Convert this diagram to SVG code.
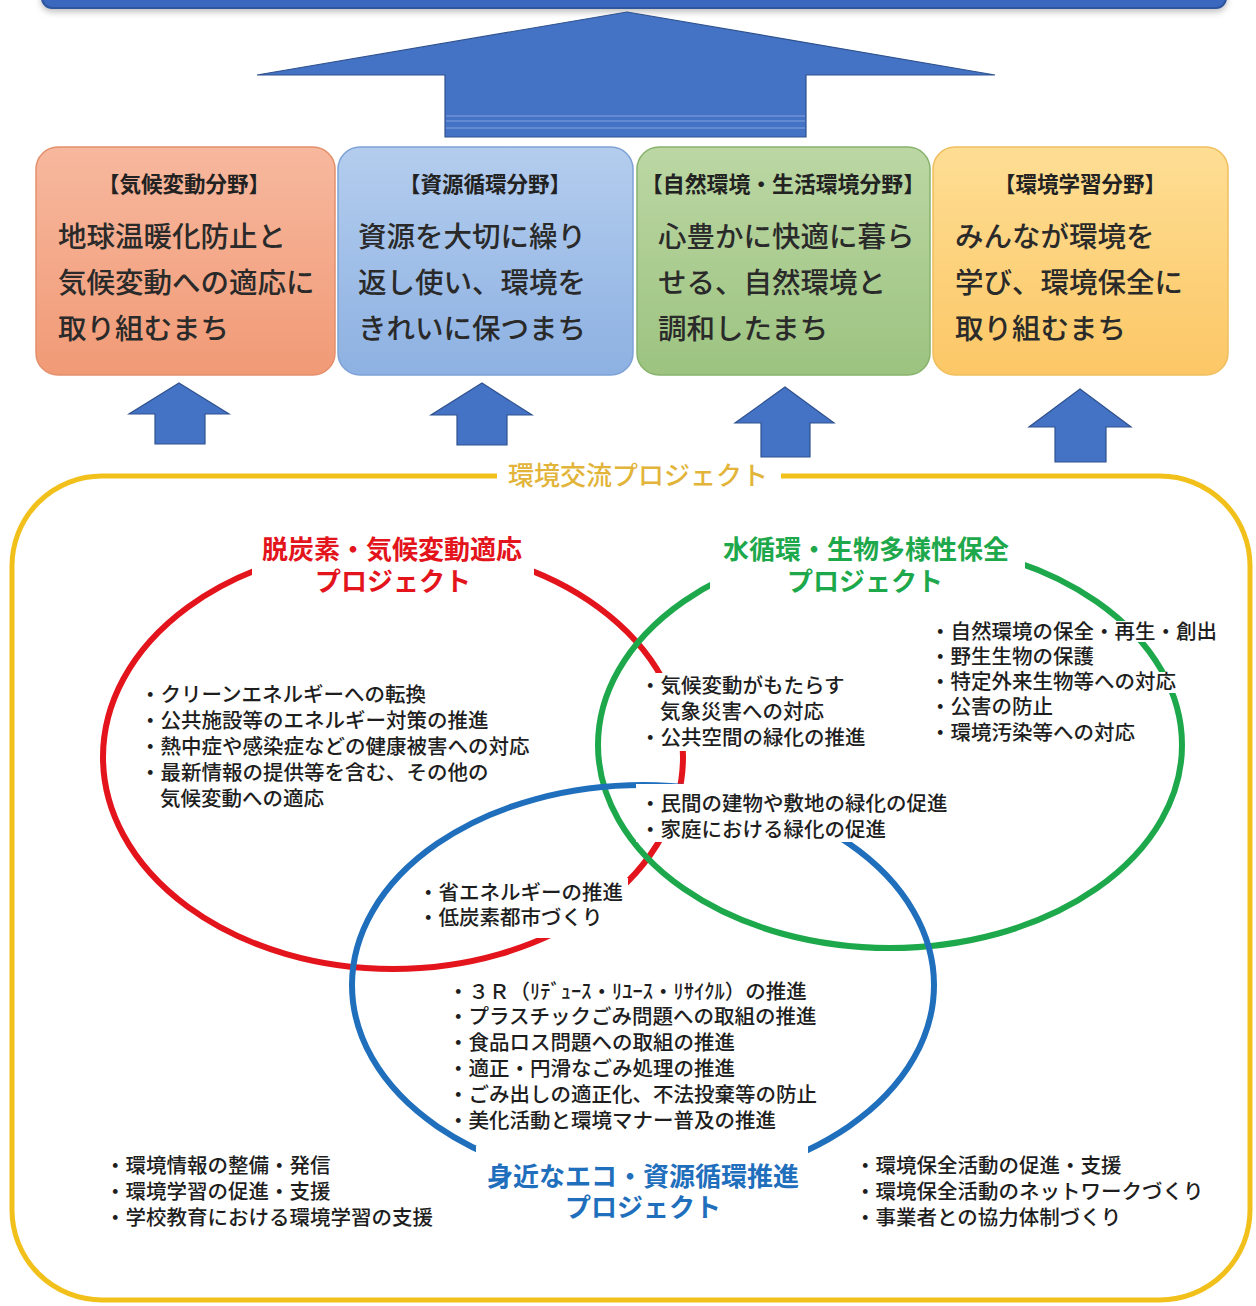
<svg xmlns="http://www.w3.org/2000/svg" width="1256" height="1306" viewBox="0 0 1256 1306">
<style>
  .hdr { font-family: "Noto Sans CJK JP", sans-serif; font-size: 21.5px; font-weight: 700; fill: #222; text-anchor: middle; }
  .main { font-family: "Noto Sans CJK JP", sans-serif; font-size: 28.5px; font-weight: 500; fill: #2a2a2a; }
  .list { font-family: "Noto Sans CJK JP", sans-serif; font-size: 20.5px; font-weight: 500; fill: #1e1e1e; }
  .lbl { font-family: "Noto Sans CJK JP", sans-serif; font-size: 26px; font-weight: 700; text-anchor: middle; }
  .arrow { fill: #4472c4; stroke: #2f528f; stroke-width: 1.2; }
  .mask { fill: #ffffff; }
  .ring { fill: none; stroke-width: 6; }
</style>
<defs>
  <linearGradient id="g1" x1="0" y1="0" x2="0" y2="1"><stop offset="0" stop-color="#f7b89e"/><stop offset="1" stop-color="#f19a76"/></linearGradient>
  <linearGradient id="g2" x1="0" y1="0" x2="0" y2="1"><stop offset="0" stop-color="#b4cdee"/><stop offset="1" stop-color="#8db1e2"/></linearGradient>
  <linearGradient id="g3" x1="0" y1="0" x2="0" y2="1"><stop offset="0" stop-color="#bcd7a4"/><stop offset="1" stop-color="#9cc380"/></linearGradient>
  <linearGradient id="g4" x1="0" y1="0" x2="0" y2="1"><stop offset="0" stop-color="#fede94"/><stop offset="1" stop-color="#fcc766"/></linearGradient>
  <filter id="sh" x="-5%" y="-50%" width="110%" height="200%"><feDropShadow dx="0" dy="3" stdDeviation="3" flood-color="#000" flood-opacity="0.25"/></filter>
</defs>
<rect width="1256" height="1306" fill="#ffffff"/>

<!-- top bar -->
<g id="top-bar">
  <rect x="42" y="-30" width="1184" height="38" rx="10" fill="#3a68bf" stroke="#2d559e" stroke-width="2" filter="url(#sh)"/>
</g>

<!-- big arrow -->
<g id="big-arrow">
  <polygon class="arrow" points="627,12 995,75 806,75 806,137 445,137 445,75 257,75"/>
  <g stroke="#6f93d6" stroke-width="1.5">
    <line x1="446" y1="116" x2="805" y2="116"/>
    <line x1="446" y1="121" x2="805" y2="121"/>
    <line x1="446" y1="128" x2="805" y2="128"/>
  </g>
</g>

<!-- field boxes -->
<g id="box-climate">
  <rect x="36" y="147" width="299" height="228" rx="22" fill="url(#g1)" stroke="#e3906c" stroke-width="1.5"/>
  <text class="hdr" x="184" y="192">【気候変動分野】</text>
  <text class="main" x="58" y="247">地球温暖化防止と</text>
  <text class="main" x="58" y="293">気候変動への適応に</text>
  <text class="main" x="58" y="339">取り組むまち</text>
</g>
<g id="box-resource">
  <rect x="338" y="147" width="295" height="228" rx="22" fill="url(#g2)" stroke="#7ea2d5" stroke-width="1.5"/>
  <text class="hdr" x="485" y="192">【資源循環分野】</text>
  <text class="main" x="358" y="247">資源を大切に繰り</text>
  <text class="main" x="358" y="293">返し使い、環境を</text>
  <text class="main" x="358" y="339">きれいに保つまち</text>
</g>
<g id="box-nature">
  <rect x="637" y="147" width="293" height="228" rx="22" fill="url(#g3)" stroke="#88b36c" stroke-width="1.5"/>
  <text class="hdr" x="783" y="192" textLength="284" lengthAdjust="spacingAndGlyphs">【自然環境・生活環境分野】</text>
  <text class="main" x="658" y="247">心豊かに快適に暮ら</text>
  <text class="main" x="658" y="293">せる、自然環境と</text>
  <text class="main" x="658" y="339">調和したまち</text>
</g>
<g id="box-learning">
  <rect x="933" y="147" width="295" height="228" rx="22" fill="url(#g4)" stroke="#f0be5e" stroke-width="1.5"/>
  <text class="hdr" x="1080" y="192">【環境学習分野】</text>
  <text class="main" x="955" y="247">みんなが環境を</text>
  <text class="main" x="955" y="293">学び、環境保全に</text>
  <text class="main" x="955" y="339">取り組むまち</text>
</g>

<!-- small arrows -->
<g id="connectors">
  <polygon class="arrow" points="179,383 229,414 205,414 205,444 155,444 155,414 129,414"/>
  <polygon class="arrow" points="482,383 532,415 507,415 507,445 457,445 457,415 431,415"/>
  <polygon class="arrow" points="785,387 834,423 810,423 810,457 761,457 761,423 735,423"/>
  <polygon class="arrow" points="1080,389 1131,427 1106,427 1106,462 1055,462 1055,427 1029,427"/>
</g>

<!-- environment exchange project frame -->
<g id="frame">
  <rect x="12" y="476" width="1238" height="824" rx="90" fill="none" stroke="#f2c01a" stroke-width="5"/>
  <rect class="mask" x="497" y="462" width="284" height="30"/>
  <text class="lbl" x="638" y="485" style="font-weight:500" fill="#e2b43a">環境交流プロジェクト</text>
</g>

<!-- rings -->
<g id="rings">
  <ellipse class="ring" cx="393" cy="757" rx="290" ry="212" stroke="#e3141c"/>
  <ellipse class="ring" cx="890" cy="745" rx="292" ry="203" stroke="#1ea84c"/>
  <ellipse class="ring" cx="643" cy="985" rx="291" ry="200" stroke="#1f6fbd"/>
</g>

<!-- ring labels -->
<g id="label-red">
  <rect class="mask" x="252" y="530" width="282" height="70"/>
  <text class="lbl" x="392" y="559" fill="#e3141c">脱炭素・気候変動適応</text>
  <text class="lbl" x="393" y="591" fill="#e3141c">プロジェクト</text>
</g>
<g id="label-green">
  <rect class="mask" x="710" y="528" width="315" height="70"/>
  <text class="lbl" x="866" y="559" fill="#1ea84c">水循環・生物多様性保全</text>
  <text class="lbl" x="865" y="591" fill="#1ea84c">プロジェクト</text>
</g>
<g id="label-blue">
  <rect class="mask" x="476" y="1146" width="332" height="80"/>
  <text class="lbl" x="643" y="1186" fill="#1f6fbd">身近なエコ・資源循環推進</text>
  <text class="lbl" x="643" y="1217" fill="#1f6fbd">プロジェクト</text>
</g>

<!-- item lists -->
<g id="list-red">
  <text class="list" x="140" y="702">・クリーンエネルギーへの転換</text>
  <text class="list" x="140" y="728">・公共施設等のエネルギー対策の推進</text>
  <text class="list" x="140" y="754">・熱中症や感染症などの健康被害への対応</text>
  <text class="list" x="140" y="780">・最新情報の提供等を含む、その他の</text>
  <text class="list" x="160" y="806">気候変動への適応</text>
</g>
<g id="list-red-green">
  <rect class="mask" x="636" y="673" width="234" height="78"/>
  <text class="list" x="640" y="693">・気候変動がもたらす</text>
  <text class="list" x="660" y="719">気象災害への対応</text>
  <text class="list" x="640" y="745">・公共空間の緑化の推進</text>
</g>
<g id="list-green">
  <rect class="mask" x="928" y="621" width="292" height="21"/>
  <rect class="mask" x="928" y="647" width="166" height="21"/>
  <rect class="mask" x="928" y="672" width="248" height="21"/>
  <rect class="mask" x="928" y="697" width="126" height="21"/>
  <rect class="mask" x="928" y="722" width="208" height="21"/>
  <text class="list" x="930" y="639">・自然環境の保全・再生・創出</text>
  <text class="list" x="930" y="664">・野生生物の保護</text>
  <text class="list" x="930" y="689">・特定外来生物等への対応</text>
  <text class="list" x="930" y="714">・公害の防止</text>
  <text class="list" x="930" y="740">・環境汚染等への対応</text>
</g>
<g id="list-green-blue">
  <rect class="mask" x="636" y="784" width="322" height="58"/>
  <text class="list" x="640" y="811">・民間の建物や敷地の緑化の促進</text>
  <text class="list" x="640" y="837">・家庭における緑化の促進</text>
</g>
<g id="list-red-blue">
  <rect class="mask" x="415" y="878" width="213" height="60"/>
  <text class="list" x="418" y="900">・省エネルギーの推進</text>
  <text class="list" x="418" y="925">・低炭素都市づくり</text>
</g>
<g id="list-blue">
  <text class="list" x="448" y="999">・３Ｒ（ﾘﾃﾞｭｰｽ・ﾘﾕｰｽ・ﾘｻｲｸﾙ）の推進</text>
  <text class="list" x="448" y="1024">・プラスチックごみ問題への取組の推進</text>
  <text class="list" x="448" y="1050">・食品ロス問題への取組の推進</text>
  <text class="list" x="448" y="1076">・適正・円滑なごみ処理の推進</text>
  <text class="list" x="448" y="1102">・ごみ出しの適正化、不法投棄等の防止</text>
  <text class="list" x="448" y="1128">・美化活動と環境マナー普及の推進</text>
</g>
<g id="list-learning">
  <text class="list" x="105" y="1173">・環境情報の整備・発信</text>
  <text class="list" x="105" y="1199">・環境学習の促進・支援</text>
  <text class="list" x="105" y="1225">・学校教育における環境学習の支援</text>
</g>
<g id="list-partnership">
  <text class="list" x="855" y="1173">・環境保全活動の促進・支援</text>
  <text class="list" x="855" y="1199">・環境保全活動のネットワークづくり</text>
  <text class="list" x="855" y="1225">・事業者との協力体制づくり</text>
</g>
</svg>
